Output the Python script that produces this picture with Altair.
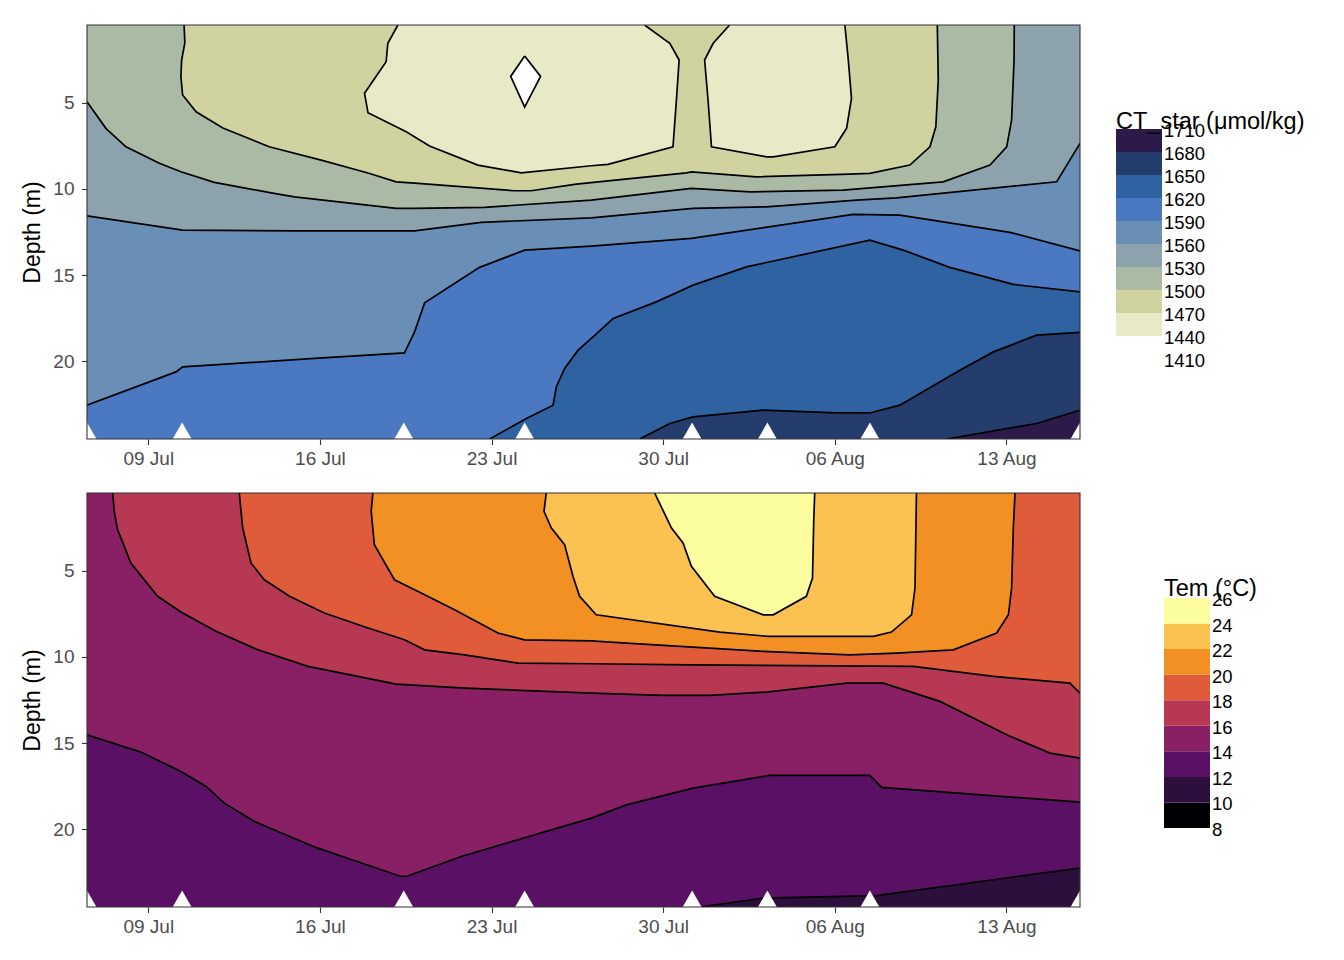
import numpy as np
import pandas as pd
import altair as alt

# ---------------------------------------------------------------- axes / ranges
ORIGIN = pd.Timestamp("2023-07-01")          # x values are days since 1 Jul
DAY_MIN, DAY_MAX = 5.5, 46.0                  # 6 Jul 12:00 .. 16 Aug
DEPTH_MIN, DEPTH_MAX = 0.5, 24.5
tick_dates = ["2023-07-09", "2023-07-16", "2023-07-23", "2023-07-30", "2023-08-06", "2023-08-13"]
depth_ticks = [5, 10, 15, 20]
sample_days = [5.5, 9.38, 18.42, 23.35, 30.18, 33.25, 37.43, 46.0]
sample_depth = 24.1

# ---------------------------------------------------------------- colour bands
ct_breaks = [1410, 1440, 1470, 1500, 1530, 1560, 1590, 1620, 1650, 1680, 1710]
ct_colors = ["#FFFFFF", "#E8E9C7", "#D0D29F", "#ABBAA5", "#8CA3AD",
             "#6A8FB7", "#4B79C1", "#2E62A0", "#243D6D", "#2C1A4B"]
tem_breaks = [8, 10, 12, 14, 16, 18, 20, 22, 24, 26]
tem_colors = ["#000004", "#2D0F3D", "#5A1165", "#891F64", "#B73852",
              "#DF5B39", "#F39023", "#FCC251", "#FBFD9F"]

# ---------------------------------------------------------------- CT_star isolines (day, depth)
ct1440_diamond = [(23.35, 2.30), (24.00, 3.48), (23.35, 5.26), (22.78, 3.48), (23.35, 2.30)]
ct1470_a = [(18.18, 0.5), (17.77, 1.56), (17.70, 2.63), (16.82, 4.46), (16.96, 5.59), (18.52, 6.69),
            (19.47, 7.52), (21.44, 8.62), (23.21, 9.07), (26.07, 8.66), (26.75, 8.58), (29.40, 7.56),
            (29.54, 4.85), (29.65, 2.53), (29.27, 1.56), (28.24, 0.5)]
ct1470_b = [(31.71, 0.5), (31.04, 1.56), (30.69, 2.53), (30.83, 4.85), (30.97, 7.56), (33.21, 8.14),
            (33.49, 8.14), (36.00, 7.56), (36.48, 6.49), (36.68, 4.75), (36.55, 2.53), (36.41, 0.5)]
ct1500 = [(9.46, 0.5), (9.49, 1.54), (9.36, 2.53), (9.33, 3.50), (9.40, 4.56), (9.95, 5.53), (11.04, 6.47),
          (12.93, 7.56), (15.05, 8.33), (16.96, 9.08), (18.11, 9.59), (19.00, 9.68), (22.93, 10.11),
          (23.62, 10.11), (25.46, 9.72), (29.95, 9.07), (30.15, 9.01), (32.80, 9.30), (36.61, 9.14),
          (37.43, 9.10), (39.06, 8.62), (39.88, 7.56), (40.12, 6.40), (40.22, 3.69), (40.18, 0.5)]
ct1530 = [(5.5, 4.95), (6.27, 6.49), (7.09, 7.56), (8.45, 8.52), (9.33, 9.01), (10.69, 9.62), (13.01, 10.23),
          (13.96, 10.46), (18.11, 11.13), (18.86, 11.13), (21.71, 11.07), (26.07, 10.65), (30.15, 9.97),
          (32.53, 10.17), (36.34, 10.07), (40.42, 9.59), (42.33, 8.62), (43.01, 7.56), (43.21, 6.01),
          (43.31, 2.53), (43.32, 0.5)]
ct1560 = [(5.5, 11.56), (9.40, 12.39), (13.96, 12.43), (18.86, 12.43), (21.58, 11.94), (26.07, 11.68),
          (30.22, 11.13), (33.21, 11.04), (36.89, 10.65), (38.52, 10.52), (45.05, 9.59), (46.0, 7.36)]
ct1590 = [(5.5, 22.54), (9.13, 20.61), (9.40, 20.32), (14.78, 19.83), (18.45, 19.51), (18.86, 18.29),
          (19.27, 16.61), (21.51, 14.55), (23.35, 13.55), (26.07, 13.32), (30.15, 12.87), (36.75, 11.48),
          (38.65, 11.52), (40.42, 11.91), (43.14, 12.52), (46.0, 13.59)]
ct1620 = [(21.92, 24.5), (23.42, 23.31), (24.51, 22.54), (24.64, 21.48), (24.98, 20.41), (25.53, 19.35),
          (26.07, 18.67), (26.96, 17.51), (28.72, 16.55), (30.22, 15.58), (32.40, 14.52), (37.43, 12.97),
          (38.79, 13.55), (40.69, 14.55), (43.28, 15.54), (46.0, 15.97)]
ct1650 = [(28.04, 24.5), (29.27, 23.60), (30.22, 23.22), (33.08, 22.83), (36.07, 22.99), (37.43, 22.99),
          (38.65, 22.54), (41.10, 20.51), (42.47, 19.45), (44.23, 18.48), (46.0, 18.32)]
ct1680 = [(40.56, 24.5), (44.23, 23.60), (46.0, 22.83)]

# ---------------------------------------------------------------- temperature isolines (day, depth)
tem12 = [(30.49, 24.5), (33.08, 23.99), (37.70, 23.84), (43.14, 22.79), (46.0, 22.25)]
tem14 = [(5.5, 14.52), (7.70, 15.52), (9.33, 16.64), (10.36, 17.51), (11.10, 18.48), (12.33, 19.54),
         (14.91, 21.09), (18.31, 22.73), (18.52, 22.73), (20.76, 21.57), (26.07, 19.35), (27.50, 18.58),
         (30.22, 17.61), (33.35, 16.87), (37.43, 16.87), (37.91, 17.57), (46.0, 18.42)]
tem16 = [(6.55, 0.5), (6.61, 1.56), (6.75, 2.63), (7.29, 4.56), (8.38, 6.49), (9.33, 7.40), (10.76, 8.52),
         (12.47, 9.59), (14.51, 10.55), (18.11, 11.58), (20.90, 11.81), (26.07, 12.10), (29.00, 12.23),
         (30.90, 12.23), (33.21, 12.04), (36.48, 11.52), (37.98, 11.52), (40.29, 12.58), (43.01, 14.52),
         (44.78, 15.58), (46.0, 15.87)]
tem18 = [(11.71, 0.5), (11.85, 2.53), (12.19, 4.56), (12.73, 5.53), (13.76, 6.49), (15.18, 7.46),
         (16.96, 8.33), (18.45, 9.01), (19.27, 9.59), (20.90, 9.88), (23.08, 10.36), (26.07, 10.40),
         (30.15, 10.46), (39.20, 10.55), (42.47, 11.13), (45.59, 11.52), (46.0, 12.10)]
tem20 = [(17.16, 0.5), (17.09, 1.54), (17.22, 3.50), (18.04, 5.53), (19.13, 6.30), (20.49, 7.27),
         (22.26, 8.62), (23.35, 9.01), (26.07, 9.07), (27.50, 9.20), (33.08, 9.68), (36.61, 9.88),
         (38.52, 9.78), (40.83, 9.59), (42.60, 8.62), (43.08, 7.56), (43.21, 6.01), (43.28, 2.53), (43.35, 0.5)]
tem22 = [(24.23, 0.5), (24.14, 1.56), (24.44, 2.53), (24.98, 3.50), (25.32, 5.33), (25.59, 6.49),
         (26.27, 7.56), (31.31, 8.56), (33.28, 8.81), (37.57, 8.81), (38.31, 8.56), (39.13, 7.56),
         (39.27, 6.01), (39.33, 0.5)]
tem24 = [(28.65, 0.5), (29.34, 2.53), (29.81, 3.40), (30.15, 4.75), (31.10, 6.49), (33.08, 7.56),
         (33.49, 7.56), (34.84, 6.49), (35.09, 5.43), (35.14, 2.14), (35.18, 0.5)]


# ---------------------------------------------------------------- helpers
def to_time(days):
    return (ORIGIN + pd.to_timedelta(np.asarray(days, dtype=float), unit="D")).round("s")


def dt(ts):
    ts = pd.Timestamp(ts)
    return alt.DateTime(year=ts.year, month=ts.month, date=ts.day, hours=ts.hour, minutes=ts.minute)


CORNERS = [(DAY_MIN, DEPTH_MIN), (DAY_MAX, DEPTH_MIN), (DAY_MAX, DEPTH_MAX), (DAY_MIN, DEPTH_MAX)]


def perimeter_pos(p):
    x, d = p
    w, h, eps = DAY_MAX - DAY_MIN, DEPTH_MAX - DEPTH_MIN, 1e-6
    if d <= DEPTH_MIN + eps:
        return (x - DAY_MIN) / w
    if x >= DAY_MAX - eps:
        return 1 + (d - DEPTH_MIN) / h
    if d >= DEPTH_MAX - eps:
        return 2 + (DAY_MAX - x) / w
    if x <= DAY_MIN + eps:
        return 3 + (DEPTH_MAX - d) / h
    return None


def close_region(pts, reverse):
    """Region on the right-hand side of the isoline, closed clockwise along the panel frame."""
    pts = list(reversed(pts)) if reverse else list(pts)
    s_end, s_start = perimeter_pos(pts[-1]), perimeter_pos(pts[0])
    if s_end is None or s_start is None:
        return pts
    if s_start <= s_end:
        s_start += 4
    k = int(np.floor(s_end)) + 1
    while k < s_start:
        pts.append(CORNERS[k % 4])
        k += 1
    return pts


def frame(pts):
    return pd.DataFrame({"t": to_time([p[0] for p in pts]),
                         "depth": [p[1] for p in pts],
                         "i": range(len(pts))})


FONT = "Liberation Sans"
X_ENC = alt.X("t:T", title=None,
              scale=alt.Scale(domain=[dt(to_time([DAY_MIN])[0]), dt(to_time([DAY_MAX])[0])], nice=False),
              axis=alt.Axis(values=[dt(s) for s in tick_dates], format="%d %b", grid=False, domain=False,
                            labelFontSize=19, labelColor="#4D4D4D", tickColor="#333333", tickSize=5.5,
                            tickWidth=1.1, labelPadding=4.5, labelFlush=False, labelOverlap=False))
Y_ENC = alt.Y("depth:Q", title="Depth (m)",
              scale=alt.Scale(domain=[DEPTH_MIN, DEPTH_MAX], reverse=True, nice=False, zero=False),
              axis=alt.Axis(values=depth_ticks, grid=False, domain=False, labelFontSize=19,
                            labelColor="#4D4D4D", tickColor="#333333", tickSize=5.5, tickWidth=1.1,
                            labelPadding=7.5, titleFontSize=23, titleFontWeight="normal",
                            titleColor="black", titlePadding=8))

PANEL_W, PANEL_H = 993, 414
LEGEND_W = 200


def panel(base_color, regions, isolines):
    rect_df = pd.DataFrame({"t": to_time([DAY_MIN]), "t2": to_time([DAY_MAX]),
                            "depth": [DEPTH_MIN], "depth2": [DEPTH_MAX]})
    layers = [alt.Chart(rect_df).mark_rect(color=base_color).encode(
        x=X_ENC, x2="t2", y=Y_ENC, y2="depth2")]
    for pts, reverse, color in regions:
        layers.append(alt.Chart(frame(close_region(pts, reverse))).mark_line(
            fill=color, stroke=color, strokeWidth=0.6, clip=True).encode(
            x=X_ENC, y=Y_ENC, order="i:Q"))
    line_df = pd.concat([frame(p).assign(line=n) for n, p in enumerate(isolines)], ignore_index=True)
    layers.append(alt.Chart(line_df).mark_line(color="black", strokeWidth=1.7, clip=True).encode(
        x=X_ENC, y=Y_ENC, detail="line:N", order="i:Q"))
    tri_df = pd.DataFrame({"t": to_time(sample_days), "depth": sample_depth})
    layers.append(alt.Chart(tri_df).mark_point(shape="triangle-up", filled=True, color="white",
                                               opacity=1, size=480, strokeWidth=0, clip=True).encode(
        x=X_ENC, y=Y_ENC))
    layers.append(alt.Chart(rect_df).mark_rect(fillOpacity=0, stroke="#333333", strokeWidth=1.1).encode(
        x=X_ENC, x2="t2", y=Y_ENC, y2="depth2"))
    return alt.layer(*layers).properties(width=PANEL_W, height=PANEL_H)


def legend(breaks, colors, title, box_x0, box_top_px, box_h_px, box_w, title_dy):
    step = breaks[1] - breaks[0]
    ppu = box_h_px / step
    top_val = breaks[-1] + box_top_px / ppu
    bottom_val = top_val - PANEL_H / ppu
    ys = alt.Scale(domain=[bottom_val, top_val], nice=False, zero=False)
    xs = alt.Scale(domain=[0, LEGEND_W], nice=False, zero=False)
    box_df = pd.DataFrame({"lo": breaks[:-1], "hi": breaks[1:], "x0": box_x0, "x1": box_x0 + box_w,
                           "c": colors})
    boxes = alt.Chart(box_df).mark_rect().encode(
        x=alt.X("x0:Q", scale=xs, axis=None), x2="x1",
        y=alt.Y("lo:Q", scale=ys, axis=None), y2="hi",
        color=alt.Color("c:N", scale=None))
    lab_df = pd.DataFrame({"v": breaks, "x": box_x0 + box_w + 2, "s": [str(b) for b in breaks]})
    labels = alt.Chart(lab_df).mark_text(align="left", baseline="middle", dy=2, fontSize=18.5,
                                         color="black", font=FONT).encode(
        x=alt.X("x:Q", scale=xs, axis=None), y=alt.Y("v:Q", scale=ys, axis=None), text="s:N")
    ttl_df = pd.DataFrame({"v": [breaks[-1]], "x": [box_x0], "s": [title]})
    ttl = alt.Chart(ttl_df).mark_text(align="left", baseline="alphabetic", dy=title_dy, fontSize=23.5,
                                      color="black", font=FONT).encode(
        x=alt.X("x:Q", scale=xs, axis=None), y=alt.Y("v:Q", scale=ys, axis=None), text="s:N")
    return alt.layer(boxes, labels, ttl).properties(width=LEGEND_W, height=PANEL_H)


ct_regions = [
    (ct1470_a, True, ct_colors[1]),
    (ct1470_b, True, ct_colors[1]),
    (ct1440_diamond, False, ct_colors[0]),
    (ct1500, False, ct_colors[3]),
    (ct1530, False, ct_colors[4]),
    (ct1560, False, ct_colors[5]),
    (ct1590, False, ct_colors[6]),
    (ct1620, False, ct_colors[7]),
    (ct1650, False, ct_colors[8]),
    (ct1680, False, ct_colors[9]),
]
ct_lines = [ct1440_diamond, ct1470_a, ct1470_b, ct1500, ct1530, ct1560, ct1590, ct1620, ct1650, ct1680]

tem_regions = [
    (tem12, True, tem_colors[2]),
    (tem14, True, tem_colors[3]),
    (tem16, True, tem_colors[4]),
    (tem18, True, tem_colors[5]),
    (tem20, True, tem_colors[6]),
    (tem22, True, tem_colors[7]),
    (tem24, True, tem_colors[8]),
]
tem_lines = [tem12, tem14, tem16, tem18, tem20, tem22, tem24]

top_panel = panel(ct_colors[2], ct_regions, ct_lines)
bottom_panel = panel(tem_colors[1], tem_regions, tem_lines)

top_legend = legend(ct_breaks, ct_colors, "CT_star (μmol/kg)", 0, 104, 23, 46, 0)
bottom_legend = legend(tem_breaks, tem_colors, "Tem (°C)", 48, 105, 230 / 9, 46, -2.5)

chart = (alt.concat(top_panel, top_legend, bottom_panel, bottom_legend, columns=2,
                    spacing=alt.RowColnumber(row=54, column=36), bounds="flush")
         .properties(padding={"left": 21, "top": 23, "right": 5, "bottom": 5}, background="white")
         .configure(font=FONT)
         .configure_view(stroke="transparent"))

chart.save("out.html", embed_options={"renderer": "svg", "actions": False})
